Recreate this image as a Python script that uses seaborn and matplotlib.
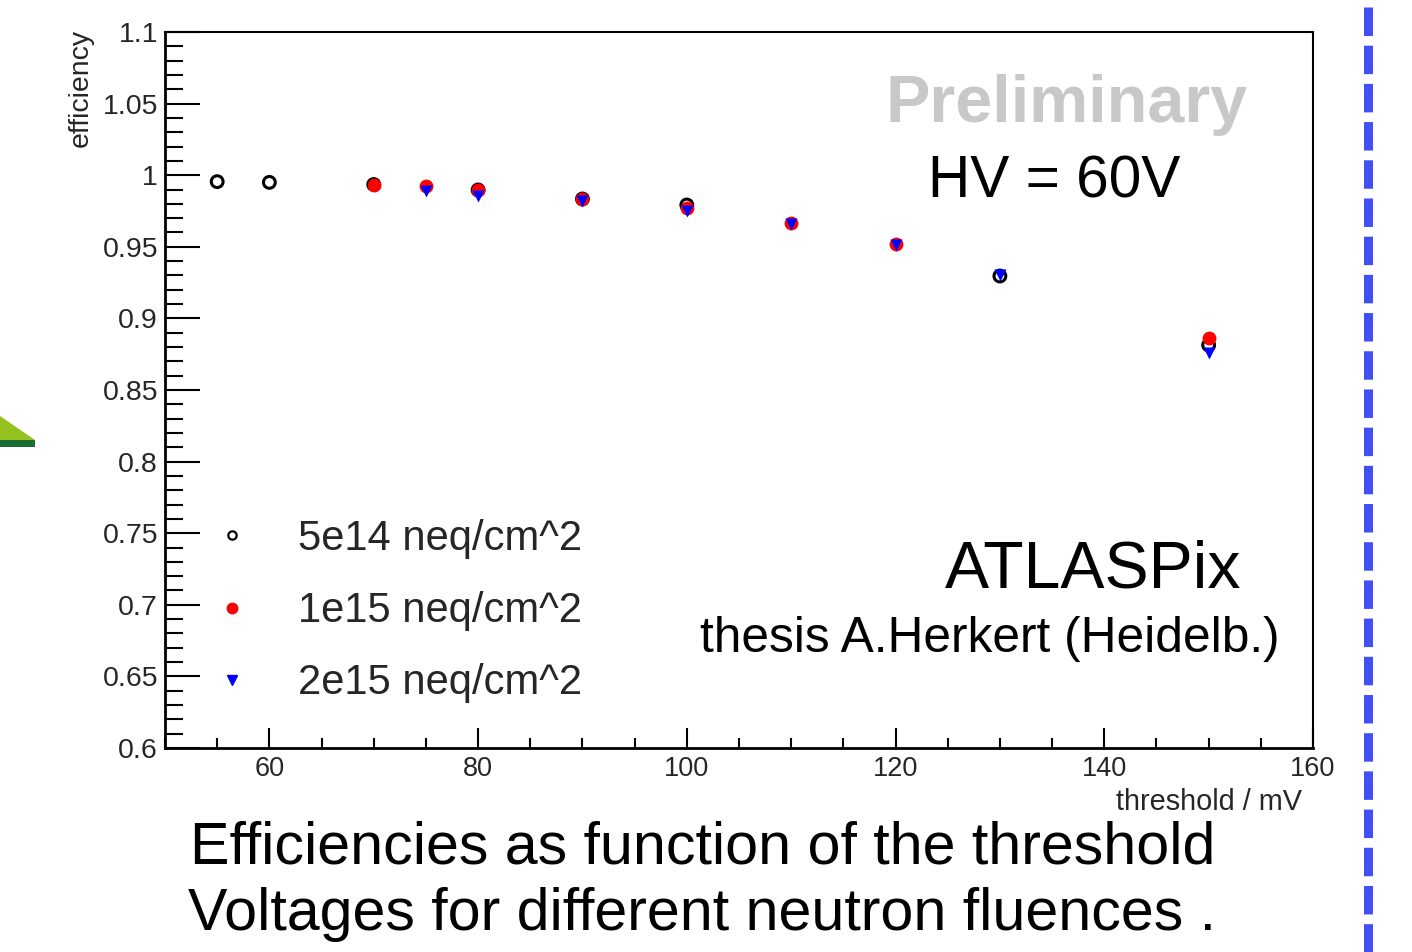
import numpy as np
import pandas as pd
import matplotlib
matplotlib.use("Agg")
import matplotlib.pyplot as plt
import seaborn as sns
from matplotlib.lines import Line2D
from matplotlib.patches import Polygon, Rectangle
from matplotlib.ticker import MultipleLocator, FuncFormatter

# ---- data ----
x_5e14 = [55, 60, 70, 80, 90, 100, 130, 150]
eff_5e14 = [0.9955, 0.995, 0.9935, 0.9897, 0.9834, 0.9792, 0.9296, 0.8814]
x_1e15 = [70, 75, 80, 90, 100, 110, 120, 150]
eff_1e15 = [0.9932, 0.9925, 0.9895, 0.9834, 0.977, 0.9664, 0.952, 0.8861]
x_2e15 = [75, 80, 90, 100, 110, 120, 130, 150]
eff_2e15 = [0.989, 0.9855, 0.982, 0.975, 0.9656, 0.951, 0.930, 0.876]
labels = ["5e14 neq/cm^2", "1e15 neq/cm^2", "2e15 neq/cm^2"]

sns.set_theme(style="white")
plt.rcParams["font.family"] = ["Liberation Sans", "DejaVu Sans"]
plt.rcParams["lines.scale_dashes"] = False

W, H = 1412, 952
fig = plt.figure(figsize=(W / 100, H / 100), dpi=100)
ax = fig.add_axes([165 / W, 1 - 748 / H, (1313 - 165) / W, (748 - 32) / H])

df1 = pd.DataFrame({"threshold": x_5e14, "efficiency": eff_5e14})
df2 = pd.DataFrame({"threshold": x_1e15, "efficiency": eff_1e15})
df3 = pd.DataFrame({"threshold": x_2e15, "efficiency": eff_2e15})

sns.scatterplot(data=df1, x="threshold", y="efficiency", ax=ax, marker="o",
                s=72, facecolor="none", edgecolor="black", linewidth=2.2,
                label=labels[0], zorder=3)
sns.scatterplot(data=df2, x="threshold", y="efficiency", ax=ax, marker="o",
                s=100, color="#ff0000", linewidth=0, label=labels[1], zorder=4)
sns.scatterplot(data=df3, x="threshold", y="efficiency", ax=ax, marker="v",
                s=75, color="#0000ff", linewidth=0, label=labels[2], zorder=5)

ax.set_xlim(50, 160)
ax.set_ylim(0.6, 1.1)
ax.xaxis.set_major_locator(MultipleLocator(20))
ax.xaxis.set_minor_locator(MultipleLocator(5))
ax.yaxis.set_major_locator(MultipleLocator(0.05))
ax.yaxis.set_minor_locator(MultipleLocator(0.01))
ax.yaxis.set_major_formatter(FuncFormatter(lambda v, p: "%g" % round(v, 3)))
ax.xaxis.set_major_formatter(FuncFormatter(lambda v, p: "%g" % v))

ax.tick_params(axis="y", which="major", direction="in", length=25, width=1.5,
               labelsize=20.5, pad=5, left=True, right=False, color="black")
ax.tick_params(axis="y", which="minor", direction="in", length=13, width=1.5,
               left=True, right=False, color="black")
ax.tick_params(axis="x", which="major", direction="in", length=14.5, width=1.5,
               labelsize=19.5, pad=6, bottom=True, top=False, color="black")
ax.tick_params(axis="x", which="minor", direction="in", length=7, width=1.5,
               bottom=True, top=False, color="black")
for side, sp in ax.spines.items():
    sp.set_visible(True)
    sp.set_color("black")
    sp.set_linewidth(2.0 if side in ("left", "bottom") else 1.5)

ax.set_ylabel("efficiency", fontsize=20.5, loc="top")
ax.yaxis.set_label_coords(-0.062, 1.004)
ax.set_xlabel("threshold / mV", fontsize=20.8, loc="right")
ax.xaxis.set_label_coords(0.9904, -0.056)

handles = [
    Line2D([], [], marker="o", linestyle="none", markerfacecolor="none",
           markeredgecolor="black", markeredgewidth=1.6, markersize=6),
    Line2D([], [], marker="o", linestyle="none", color="#ff0000", markersize=7.5),
    Line2D([], [], marker="v", linestyle="none", color="#0000ff", markersize=7),
]
ax.legend(handles, labels, loc="upper left", bbox_to_anchor=(211 / W, 1 - 519 / H),
          bbox_transform=fig.transFigure, frameon=False, fontsize=30.1,
          handlelength=1.0, handletextpad=1.08, labelspacing=0.77,
          borderpad=0, borderaxespad=0)

# ---- annotations ----
fig.text(885 / W, 1 - 122 / H, "Preliminary", fontsize=47.8, fontweight="bold",
         color="#c8c8c8", ha="left", va="baseline")
fig.text(928 / W, 1 - 198 / H, "HV = 60V", fontsize=42.2, color="black",
         ha="left", va="baseline")
fig.text(945 / W, 1 - 587 / H, "ATLASPix", fontsize=47.6, color="black",
         ha="left", va="baseline")
fig.text(700 / W, 1 - 652 / H, "thesis A.Herkert (Heidelb.)", fontsize=35.7,
         color="black", ha="left", va="baseline")
fig.text(190 / W, 1 - 864 / H, "Efficiencies as function of the threshold",
         fontsize=42.6, color="black", ha="left", va="baseline")
fig.text(188 / W, 1 - 930 / H, "Voltages for different neutron fluences .",
         fontsize=42.6, color="black", ha="left", va="baseline")

# ---- slide decorations ----
fig.add_artist(Polygon([(0, 1 - 416 / H), (35 / W, 1 - 440 / H), (0, 1 - 440 / H)],
                       closed=True, transform=fig.transFigure,
                       facecolor="#95c11f", edgecolor="none"))
fig.add_artist(Rectangle((0, 1 - 447 / H), 35 / W, 7 / H, transform=fig.transFigure,
                         facecolor="#1b6b35", edgecolor="none"))
fig.add_artist(Line2D([1368 / W, 1368 / W], [1 - 7 / H, 0], transform=fig.transFigure,
                      color="#4050f2", linewidth=6.5, dashes=(20.5, 7.0),
                      solid_capstyle="butt", dash_capstyle="butt"))

fig.savefig("out.png", dpi=100)
